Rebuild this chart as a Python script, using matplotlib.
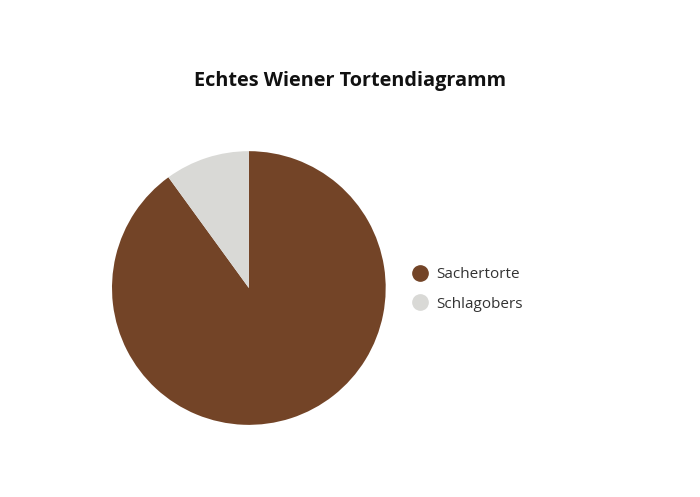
import matplotlib.pyplot as plt
from matplotlib.lines import Line2D

labels = ["Sachertorte", "Schlagobers"]
values = [90, 10]
colors = ["#734427", "#d9d9d6"]

plt.rcParams['font.family'] = ['Open Sans', 'DejaVu Sans']

fig = plt.figure(figsize=(7, 4.97), dpi=100)
ax = fig.add_axes([0.160, 0.145, 0.391, 0.551])
ax.pie(values, colors=colors, startangle=90, counterclock=False)
ax.set_xlim(-1, 1)
ax.set_ylim(-1, 1)
ax.set_aspect('equal')

fig.text(0.5, 0.838, "Echtes Wiener Tortendiagramm", ha='center', va='center',
         fontsize=14.3, fontweight='bold', color='#111111')

handles = [Line2D([], [], marker='o', linestyle='', markersize=11,
                  markerfacecolor=c, markeredgecolor=c) for c in colors]
fig.legend(handles, labels, loc='center left', bbox_to_anchor=(0.558, 0.418),
           frameon=False, fontsize=11, handletextpad=0.1, labelspacing=0.95,
           labelcolor='#333333')

fig.savefig("out.png", dpi=100)
